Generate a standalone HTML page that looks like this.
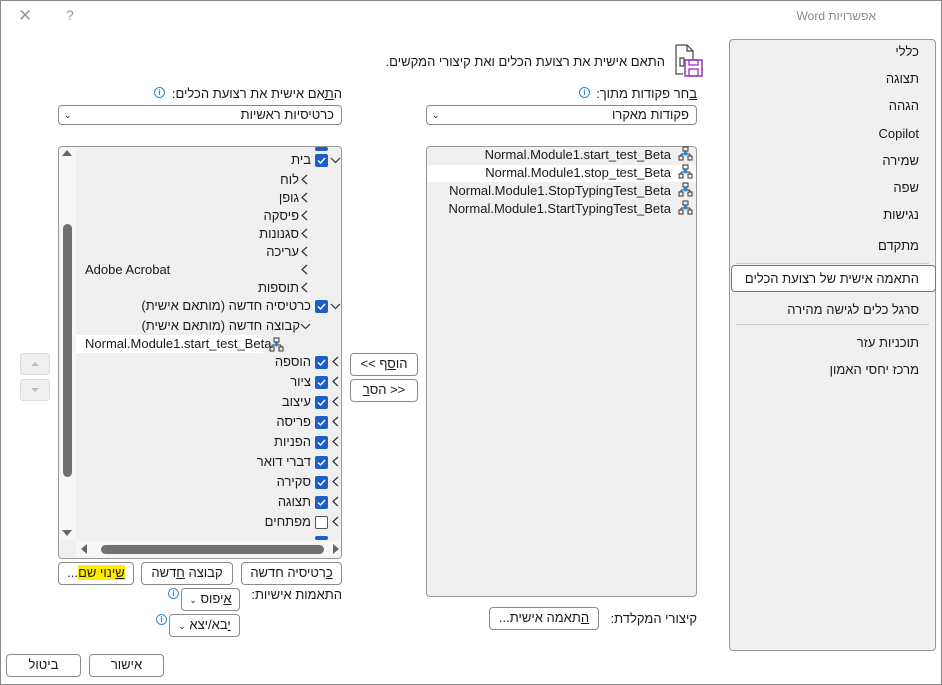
<!DOCTYPE html>
<html><head><meta charset="utf-8"><style>
*{box-sizing:border-box;margin:0;padding:0}
body{width:942px;height:685px;background:#fff;position:relative;overflow:hidden;font-family:"Liberation Sans","DejaVu Sans",sans-serif;font-size:13px;color:#1a1a1a}
.a{position:absolute}
.t{position:absolute;white-space:nowrap;direction:rtl;line-height:16px}
.b{position:absolute;border:1px solid #8a8a8a;border-radius:4px;background:#fff;text-align:center;line-height:20px;white-space:nowrap;direction:rtl}
.cb{position:absolute;width:13px;height:13px;background:#1d5ec9;border-radius:2px}
.cb svg{position:absolute;left:2px;top:3px}
.ub{position:absolute;width:13px;height:13px;border:1px solid #555;border-radius:2px;background:#fff}
.nav{position:absolute;right:16px;white-space:nowrap;direction:rtl;line-height:16px}
.info{position:absolute;width:11px;height:11px;border:1.3px solid #2a8ad8;border-radius:50%;color:#2a8ad8;font-size:8px;line-height:9px;text-align:center;font-weight:bold}
u{text-decoration:underline}
</style></head><body>
<div class="a" style="left:0;top:0;width:942px;height:685px;border:1px solid #888"></div>
<!-- title bar -->
<div class="t" style="right:66px;top:8px;color:#8a8a8a;font-size:12px">אפשרויות Word</div>
<div class="a" style="left:18px;top:6px;color:#999;font-size:17px;line-height:20px">✕</div>
<div class="a" style="left:66px;top:7px;color:#999;font-size:14px">?</div>

<!-- nav panel -->
<div class="a" style="left:729px;top:39px;width:207px;height:612px;background:#f0f0f0;border:1px solid #999;border-radius:4px">
<div class="nav" style="top:4px">כללי</div>
<div class="nav" style="top:31px">תצוגה</div>
<div class="nav" style="top:58px">הגהה</div>
<div class="nav" style="top:86px">Copilot</div>
<div class="nav" style="top:113px">שמירה</div>
<div class="nav" style="top:140px">שפה</div>
<div class="nav" style="top:167px">נגישות</div>
<div class="nav" style="top:198px">מתקדם</div>
<div class="a" style="left:6px;top:223px;width:193px;height:1px;background:#ccc"></div>
<div class="a" style="left:1px;top:225px;width:205px;height:27px;background:#fff;border:1px solid #777;border-radius:4px"></div>
<div class="nav" style="top:231px">התאמה אישית של רצועת הכלים</div>
<div class="nav" style="top:262px">סרגל כלים לגישה מהירה</div>
<div class="a" style="left:6px;top:284px;width:193px;height:1px;background:#ccc"></div>
<div class="nav" style="top:295px">תוכניות עזר</div>
<div class="nav" style="top:322px">מרכז יחסי האמון</div>
</div>

<!-- header -->
<svg class="a" style="left:674px;top:44px" width="30" height="34" viewBox="0 0 30 34">
<path d="M2 1 H13 L19 7 V26 M2 1 V30 H9" fill="none" stroke="#444" stroke-width="1.2"/>
<path d="M13 1 V7 H19" fill="none" stroke="#444" stroke-width="1.2"/>
<path d="M6 14 H10 V22 H6 Z M10 18 H13" fill="none" stroke="#444" stroke-width="1.2"/>
<rect x="11" y="16" width="17" height="16" fill="#fff" stroke="#a43bc0" stroke-width="1.6"/>
<rect x="15" y="16" width="9" height="5" fill="none" stroke="#a43bc0" stroke-width="1.4"/>
<rect x="15" y="25" width="9" height="7" fill="none" stroke="#a43bc0" stroke-width="1.4"/>
</svg>
<div class="t" style="right:277px;top:54px">התאם אישית את רצועת הכלים ואת קיצורי המקשים.</div>

<!-- labels & dropdowns -->
<div class="t" style="right:245px;top:86px"><u>ב</u>חר פקודות מתוך:</div>
<div class="info" style="left:579px;top:87px">i</div>
<div class="b" style="left:426px;top:105px;width:271px;height:20px;text-align:right;padding-right:7px;line-height:18px">פקודות מאקרו<span style="position:absolute;left:5px;top:0;font-size:9px">⌄</span></div>
<div class="t" style="right:600px;top:86px">ה<u>ת</u>אם אישית את רצועת הכלים:</div>
<div class="info" style="left:154px;top:87px">i</div>
<div class="b" style="left:58px;top:105px;width:284px;height:20px;text-align:right;padding-right:7px;line-height:18px">כרטיסיות ראשיות<span style="position:absolute;left:5px;top:0;font-size:9px">⌄</span></div>

<!-- left list -->
<div class="a" style="left:58px;top:146px;width:284px;height:413px;background:#f0f0f0;border:1px solid #999;border-radius:4px;overflow:hidden">
 <div class="a" style="left:1px;top:1px;width:16px;height:392px;background:#f6f6f6"></div>
 <div class="a" style="left:4px;top:77px;width:9px;height:253px;background:#707070;border-radius:5px"></div>
 <div class="a" style="left:3px;top:3px;width:0;height:0;border-left:5px solid transparent;border-right:5px solid transparent;border-bottom:6px solid #666"></div>
 <div class="a" style="left:3px;top:383px;width:0;height:0;border-left:5px solid transparent;border-right:5px solid transparent;border-top:6px solid #666"></div>
 <div class="a" style="left:17px;top:394px;width:265px;height:17px;background:#f6f6f6"></div>
 <div class="a" style="left:42px;top:398px;width:223px;height:9px;background:#707070;border-radius:5px"></div>
 <div class="a" style="left:22px;top:397px;width:0;height:0;border-top:5px solid transparent;border-bottom:5px solid transparent;border-right:6px solid #666"></div>
 <div class="a" style="left:274px;top:397px;width:0;height:0;border-top:5px solid transparent;border-bottom:5px solid transparent;border-left:6px solid #666"></div>
</div>
<svg class="a" style="left:0;top:0" width="942" height="685">
<defs>
<path id="l" d="M5 0 L0 4.5 L5 9" fill="none" stroke="#333" stroke-width="1.2"/>
<path id="d" d="M0 0 L4.5 4.5 L9 0" fill="none" stroke="#333" stroke-width="1.2"/>
</defs>
<g>
<use href="#d" x="331" y="158"/>
<use href="#l" x="302" y="175"/><use href="#l" x="302" y="193"/><use href="#l" x="302" y="211"/><use href="#l" x="302" y="229"/><use href="#l" x="302" y="247"/><use href="#l" x="302" y="265"/><use href="#l" x="302" y="283"/>
<use href="#d" x="331" y="304"/>
<use href="#d" x="301" y="324"/>
<use href="#l" x="333" y="357"/><use href="#l" x="333" y="377"/><use href="#l" x="333" y="397"/><use href="#l" x="333" y="417"/><use href="#l" x="333" y="437"/><use href="#l" x="333" y="457"/><use href="#l" x="333" y="477"/><use href="#l" x="333" y="497"/><use href="#l" x="333" y="517"/>
</g>
</svg>
<div class="cb" style="left:315px;top:147px;height:4px"></div>
<div class="cb" style="left:315px;top:154px"><svg width="9" height="7"><path d="M1 3.5 L3.5 6 L8 1" fill="none" stroke="#fff" stroke-width="1.4"/></svg></div>
<div class="t" style="right:631px;top:152px">בית</div>
<div class="t" style="right:643px;top:172px">לוח</div>
<div class="t" style="right:643px;top:190px">גופן</div>
<div class="t" style="right:643px;top:208px">פיסקה</div>
<div class="t" style="right:643px;top:226px">סגנונות</div>
<div class="t" style="right:643px;top:244px">עריכה</div>
<div class="t" style="left:85px;top:262px">Adobe Acrobat</div>
<div class="t" style="right:643px;top:280px">תוספות</div>
<div class="cb" style="left:315px;top:300px"><svg width="9" height="7"><path d="M1 3.5 L3.5 6 L8 1" fill="none" stroke="#fff" stroke-width="1.4"/></svg></div>
<div class="t" style="right:631px;top:298px">כרטיסיה חדשה (מותאם אישית)</div>
<div class="t" style="right:642px;top:318px">קבוצה חדשה (מותאם אישית)</div>
<div class="a" style="left:76px;top:335px;width:187px;height:18px;background:#fff"></div>
<div class="t" style="left:85px;top:336px;direction:ltr">Normal.Module1.start_test_Beta</div>
<svg class="a" style="left:269px;top:337px" width="15" height="15"><rect x="5" y="1" width="5" height="4" fill="none" stroke="#333"/><path d="M7.5 5 V8 M3 8 H12 M3 8 V10 M12 8 V10" stroke="#333" fill="none"/><rect x="1" y="10" width="4" height="4" fill="none" stroke="#333"/><rect x="10" y="10" width="4" height="4" fill="none" stroke="#333"/><circle cx="7.5" cy="7.5" r="2" fill="#2a8ad8"/></svg>
<div class="cb" style="left:315px;top:356px"><svg width="9" height="7"><path d="M1 3.5 L3.5 6 L8 1" fill="none" stroke="#fff" stroke-width="1.4"/></svg></div><div class="t" style="right:631px;top:354px">הוספה</div>
<div class="cb" style="left:315px;top:376px"><svg width="9" height="7"><path d="M1 3.5 L3.5 6 L8 1" fill="none" stroke="#fff" stroke-width="1.4"/></svg></div><div class="t" style="right:631px;top:374px">ציור</div>
<div class="cb" style="left:315px;top:396px"><svg width="9" height="7"><path d="M1 3.5 L3.5 6 L8 1" fill="none" stroke="#fff" stroke-width="1.4"/></svg></div><div class="t" style="right:631px;top:394px">עיצוב</div>
<div class="cb" style="left:315px;top:416px"><svg width="9" height="7"><path d="M1 3.5 L3.5 6 L8 1" fill="none" stroke="#fff" stroke-width="1.4"/></svg></div><div class="t" style="right:631px;top:414px">פריסה</div>
<div class="cb" style="left:315px;top:436px"><svg width="9" height="7"><path d="M1 3.5 L3.5 6 L8 1" fill="none" stroke="#fff" stroke-width="1.4"/></svg></div><div class="t" style="right:631px;top:434px">הפניות</div>
<div class="cb" style="left:315px;top:456px"><svg width="9" height="7"><path d="M1 3.5 L3.5 6 L8 1" fill="none" stroke="#fff" stroke-width="1.4"/></svg></div><div class="t" style="right:631px;top:454px">דברי דואר</div>
<div class="cb" style="left:315px;top:476px"><svg width="9" height="7"><path d="M1 3.5 L3.5 6 L8 1" fill="none" stroke="#fff" stroke-width="1.4"/></svg></div><div class="t" style="right:631px;top:474px">סקירה</div>
<div class="cb" style="left:315px;top:496px"><svg width="9" height="7"><path d="M1 3.5 L3.5 6 L8 1" fill="none" stroke="#fff" stroke-width="1.4"/></svg></div><div class="t" style="right:631px;top:494px">תצוגה</div>
<div class="ub" style="left:315px;top:516px"></div><div class="t" style="right:631px;top:514px">מפתחים</div>
<div class="cb" style="left:315px;top:536px;height:4px"></div>

<!-- up/down -->
<div class="a" style="left:20px;top:353px;width:30px;height:22px;background:#f0f0f0;border:1px solid #ddd;border-radius:3px"><div class="a" style="left:10px;top:8px;border-left:4px solid transparent;border-right:4px solid transparent;border-bottom:4px solid #bbb"></div></div>
<div class="a" style="left:20px;top:379px;width:30px;height:22px;background:#f0f0f0;border:1px solid #ddd;border-radius:3px"><div class="a" style="left:10px;top:8px;border-left:4px solid transparent;border-right:4px solid transparent;border-top:4px solid #bbb"></div></div>

<!-- add/remove -->
<div class="b" style="left:350px;top:353px;width:68px;height:23px">הו<u>ס</u>ף &gt;&gt;</div>
<div class="b" style="left:350px;top:379px;width:68px;height:23px">&lt;&lt; הס<u>ר</u></div>

<!-- right list -->
<div class="a" style="left:426px;top:146px;width:271px;height:451px;background:#f0f0f0;border:1px solid #999;border-radius:4px"></div>
<div class="a" style="left:428px;top:165px;width:268px;height:17px;background:#fff"></div>
<div class="t" style="right:271px;top:147px;direction:ltr">Normal.Module1.start_test_Beta</div>
<div class="t" style="right:271px;top:165px;direction:ltr">Normal.Module1.stop_test_Beta</div>
<div class="t" style="right:271px;top:183px;direction:ltr">Normal.Module1.StopTypingTest_Beta</div>
<div class="t" style="right:271px;top:201px;direction:ltr">Normal.Module1.StartTypingTest_Beta</div>
<svg class="a" style="left:678px;top:146px" width="20" height="76">
<g id="ic"><rect x="5" y="1" width="5" height="4" fill="none" stroke="#333"/><path d="M7.5 5 V8 M3 8 H12 M3 8 V10 M12 8 V10" stroke="#333" fill="none"/><rect x="1" y="10" width="4" height="4" fill="none" stroke="#333"/><rect x="10" y="10" width="4" height="4" fill="none" stroke="#333"/><circle cx="7.5" cy="7.5" r="2" fill="#2a8ad8"/></g>
<use href="#ic" y="18"/><use href="#ic" y="36"/><use href="#ic" y="54"/>
</svg>

<!-- bottom left buttons -->
<div class="b" style="left:58px;top:562px;width:76px;height:23px"><span style="background:#ffee00"><u>ש</u>ינוי שם</span>...</div>
<div class="b" style="left:141px;top:562px;width:92px;height:23px">קבוצה <u>ח</u>דשה</div>
<div class="b" style="left:241px;top:562px;width:101px;height:23px"><u>כ</u>רטיסיה חדשה</div>
<div class="t" style="right:600px;top:587px">התאמות אישיות:</div>
<div class="b" style="left:181px;top:588px;width:59px;height:23px"><u>א</u>יפוס <span style="font-size:9px">⌄</span></div>
<div class="info" style="left:168px;top:588px">i</div>
<div class="b" style="left:169px;top:614px;width:71px;height:23px"><u>י</u>בא/יצא <span style="font-size:9px">⌄</span></div>
<div class="info" style="left:156px;top:614px">i</div>

<div class="t" style="right:245px;top:611px">קיצורי המקלדת:</div>
<div class="b" style="left:489px;top:607px;width:110px;height:23px"><u>ה</u>תאמה אישית...</div>

<div class="b" style="left:89px;top:654px;width:75px;height:23px">אישור</div>
<div class="b" style="left:6px;top:654px;width:75px;height:23px">ביטול</div>
</body></html>
